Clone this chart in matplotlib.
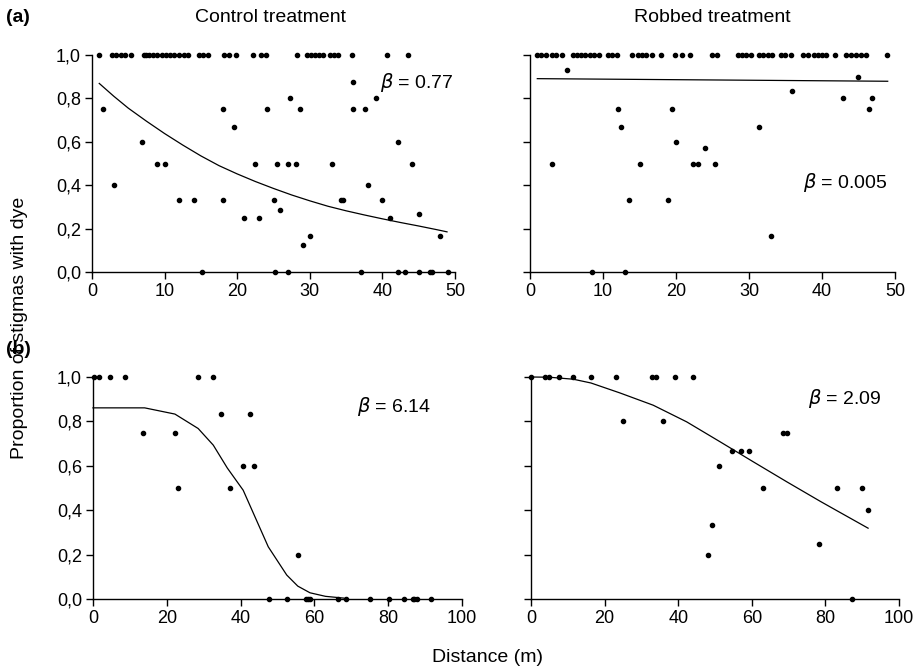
import matplotlib
matplotlib.use("Agg")
import matplotlib.pyplot as plt

plt.rcParams['font.family'] = ['Liberation Sans', 'DejaVu Sans']

# ---------------- data ----------------
y_ticks = [0.0, 0.2, 0.4, 0.6, 0.8, 1.0]
y_ticklabels = ["0,0", "0,2", "0,4", "0,6", "0,8", "1,0"]
x_ticks_a = [0, 10, 20, 30, 40, 50]
x_ticks_b = [0, 20, 40, 60, 80, 100]

# (a) control: observed proportions
ctrl_a_x = [1.0, 2.8, 3.3, 4.0, 4.6, 5.4, 7.1, 7.5, 7.9, 8.4, 9.0, 9.7, 10.2, 10.8, 11.3,
            12.0, 12.7, 13.2, 14.8, 15.3, 16.0, 18.2, 18.9, 19.8, 22.2, 23.3, 24.0, 28.2,
            29.6, 30.2, 30.7, 31.3, 31.8, 32.8, 33.3, 33.9, 35.8, 40.6, 43.5,
            1.5, 6.9, 18.0, 19.6, 24.1, 36.0, 27.3, 28.6, 36.0, 37.6, 39.1, 42.1,
            3.0, 8.9, 10.1, 12.0, 14.1, 18.0, 21.0, 23.0, 22.5, 25.5, 25.0, 25.9,
            27.0, 28.1, 33.1, 44.1, 29.0, 30.0, 34.3, 34.6, 38.0, 40.0, 41.0, 45.0, 48.0,
            15.2, 25.2, 27.0, 37.0, 42.1, 43.1, 45.1, 46.5, 46.9, 49.0]
ctrl_a_y = [1.0] * 39 + [
            0.75, 0.6, 0.75, 0.667, 0.75, 0.875, 0.8, 0.75, 0.75, 0.75, 0.8, 0.6,
            0.4, 0.5, 0.5, 0.333, 0.333, 0.333, 0.25, 0.25, 0.5, 0.5, 0.333, 0.286,
            0.5, 0.5, 0.5, 0.5, 0.125, 0.167, 0.333, 0.333, 0.4, 0.333, 0.25, 0.267, 0.167,
            0.0, 0.0, 0.0, 0.0, 0.0, 0.0, 0.0, 0.0, 0.0, 0.0]
ctrl_a_fit_x = [1.0, 3.0, 5.0, 7.5, 10.0, 12.5, 15.0, 17.5, 20.0, 22.5, 25.0, 27.5, 30.0,
                32.5, 35.0, 37.5, 40.0, 42.5, 45.0, 47.5, 48.9]
ctrl_a_fit_y = [0.869, 0.81, 0.755, 0.695, 0.638, 0.585, 0.535, 0.49, 0.452, 0.417, 0.385,
                0.355, 0.328, 0.303, 0.282, 0.263, 0.245, 0.228, 0.212, 0.195, 0.185]

# (a) robbed
rob_a_x = [1.0, 1.5, 2.2, 3.0, 3.6, 4.4, 5.9, 6.4, 7.0, 7.5, 8.2, 8.8, 9.5, 10.7, 11.2, 11.9,
           14.0, 14.8, 15.3, 15.9, 16.7, 17.9, 19.9, 20.8, 21.9, 24.9, 25.6, 28.5, 29.0, 29.6,
           30.3, 31.4, 31.9, 32.6, 33.2, 34.4, 34.9, 35.8, 37.4, 38.1, 38.9, 39.5, 40.0, 40.5,
           41.8, 43.3, 44.0, 44.7, 45.3, 46.0, 48.9,
           5.0, 12.0, 12.4, 19.5, 20.0, 24.0, 44.9, 35.9, 42.9, 46.9, 46.4, 31.4,
           3.0, 15.0, 22.3, 23.0, 25.4, 13.5, 18.9, 33.0, 8.5, 13.0]
rob_a_y = [1.0] * 51 + [
           0.933, 0.75, 0.667, 0.75, 0.6, 0.571, 0.9, 0.833, 0.8, 0.8, 0.75, 0.667,
           0.5, 0.5, 0.5, 0.5, 0.5, 0.333, 0.333, 0.167, 0.0, 0.0]
rob_a_fit_x = [1.0, 49.0]
rob_a_fit_y = [0.891, 0.879]

# (b) control
ctrl_b_x = [0.2, 1.5, 4.5, 8.6, 28.5, 32.6, 34.6, 42.5, 13.6, 22.2, 40.7, 43.6,
            23.1, 37.1, 55.6,
            47.7, 52.6, 57.7, 58.3, 58.8, 66.5, 68.6, 75.1, 80.1, 84.2, 86.6, 87.1, 87.8, 91.6]
ctrl_b_y = [1.0, 1.0, 1.0, 1.0, 1.0, 1.0, 0.833, 0.833, 0.75, 0.75, 0.6, 0.6,
            0.5, 0.5, 0.2,
            0.0, 0.0, 0.0, 0.0, 0.0, 0.0, 0.0, 0.0, 0.0, 0.0, 0.0, 0.0, 0.0, 0.0]
ctrl_b_fit_x = [0.0, 14.0, 22.2, 28.5, 32.6, 36.4, 40.7, 47.5, 52.5, 55.5, 58.8, 63.0, 68.0]
ctrl_b_fit_y = [0.861, 0.861, 0.833, 0.768, 0.693, 0.59, 0.49, 0.235, 0.108, 0.058, 0.028,
                0.012, 0.004]

# (b) robbed
rob_b_x = [0.0, 3.8, 4.9, 7.6, 11.5, 16.3, 23.0, 33.0, 34.0, 39.0, 44.0,
           24.9, 36.0, 68.6, 69.5, 54.5, 57.0, 59.2, 51.0, 63.1, 83.1, 90.0, 91.6,
           49.3, 48.0, 78.2, 87.1]
rob_b_y = [1.0] * 11 + [0.8, 0.8, 0.75, 0.75, 0.667, 0.667, 0.667, 0.6, 0.5, 0.5, 0.5, 0.4,
           0.333, 0.2, 0.25, 0.0]
rob_b_fit_x = [0.0, 5.0, 11.5, 16.3, 24.2, 33.2, 42.3, 51.4, 60.4, 69.5, 78.6, 83.1, 91.6]
rob_b_fit_y = [1.0, 0.999, 0.99, 0.973, 0.928, 0.873, 0.798, 0.708, 0.618, 0.528, 0.44,
               0.398, 0.319]

betas = ["0.77", "0.005", "6.14", "2.09"]

# ---------------- figure ----------------
W, H = 922, 671
fig = plt.figure(figsize=(W / 100, H / 100), dpi=100)


def px_axes(l, r, t, b):
    return fig.add_axes([l / W, 1 - b / H, (r - l) / W, (b - t) / H])


def style(ax, xticks, xmax, show_ylabels):
    ax.set_xlim(0, xmax)
    ax.set_ylim(0, 1)
    for s in ["top", "right"]:
        ax.spines[s].set_visible(False)
    for s in ["left", "bottom"]:
        ax.spines[s].set_linewidth(1.0)
    ax.set_xticks(xticks)
    ax.set_xticklabels([str(v) for v in xticks])
    ax.set_yticks(y_ticks)
    if show_ylabels:
        ax.set_yticklabels(y_ticklabels)
    else:
        ax.set_yticklabels([])
    ax.tick_params(direction="out", length=5, width=1.0, labelsize=13, pad=3, colors="black")


panels = [
    (px_axes(92, 455, 55, 272), ctrl_a_x, ctrl_a_y, ctrl_a_fit_x, ctrl_a_fit_y, x_ticks_a, 50, True),
    (px_axes(530, 895, 55, 272), rob_a_x, rob_a_y, rob_a_fit_x, rob_a_fit_y, x_ticks_a, 50, False),
    (px_axes(93, 462, 377, 599), ctrl_b_x, ctrl_b_y, ctrl_b_fit_x, ctrl_b_fit_y, x_ticks_b, 100, True),
    (px_axes(531, 899, 377, 599), rob_b_x, rob_b_y, rob_b_fit_x, rob_b_fit_y, x_ticks_b, 100, False),
]

beta_pos = [(380, 82), (803, 183), (357, 406), (808, 398)]

for (ax, xs, ys, fx, fy, xt, xm, showy), b, (bx, by) in zip(panels, betas, beta_pos):
    style(ax, xt, xm, showy)
    ax.plot(fx, fy, color="black", lw=0.9, clip_on=False)
    ax.plot(xs, ys, linestyle="none", marker="o", ms=3.0, color="black", clip_on=False, zorder=3)
    fig.text(bx / W, 1 - by / H, r"$\beta$" + " = " + b, fontsize=14, ha="left", va="center")

fig.text(270 / W, 1 - 18 / H, "Control treatment", fontsize=14, ha="center", va="center")
fig.text(712 / W, 1 - 18 / H, "Robbed treatment", fontsize=14, ha="center", va="center")
fig.text(6 / W, 1 - 18 / H, "(a)", fontsize=14, fontweight="bold", ha="left", va="center")
fig.text(6 / W, 1 - 349 / H, "(b)", fontsize=14, fontweight="bold", ha="left", va="center")
fig.text(20 / W, 1 - 328 / H, "Proportion of stigmas with dye", fontsize=14, rotation=90,
         ha="center", va="center")
fig.text(487 / W, 1 - 657 / H, "Distance (m)", fontsize=14, ha="center", va="center")

fig.savefig("out.png", dpi=100)
